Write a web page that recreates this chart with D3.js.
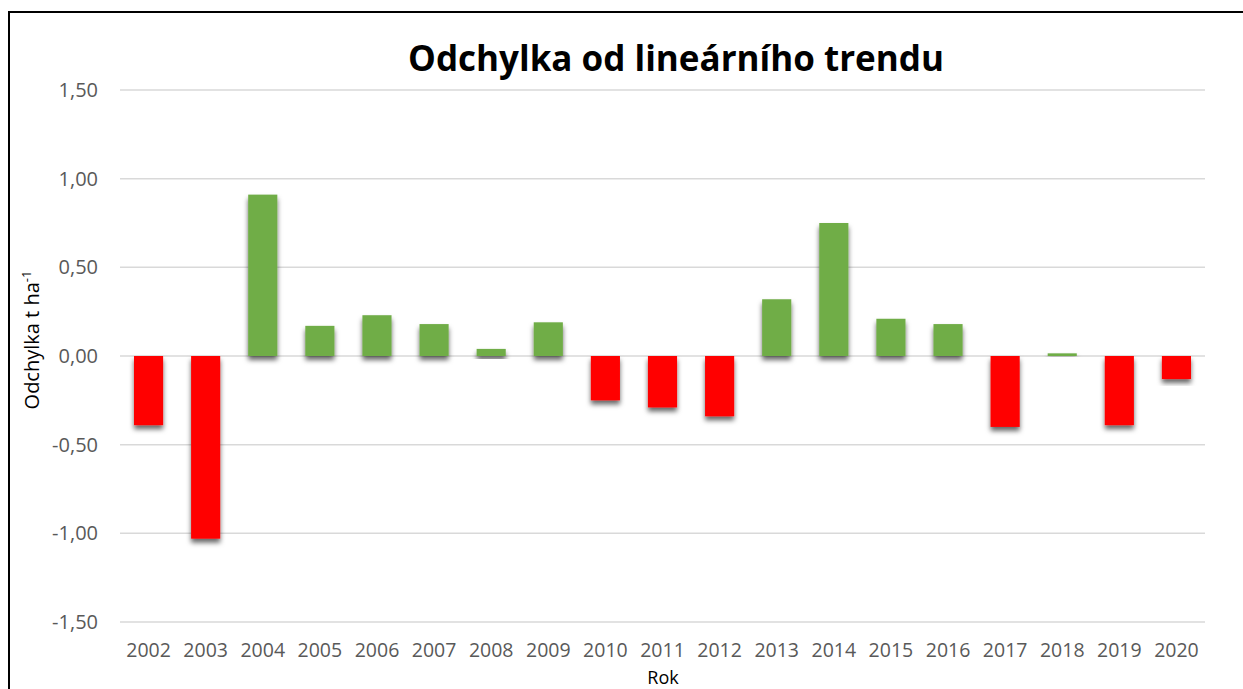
<!DOCTYPE html>
<html>
<head>
<meta charset="utf-8">
<script src="https://cdn.jsdelivr.net/npm/d3@7"></script>
<style>
html,body{margin:0;padding:0;background:#fff;}
svg{display:block;}
</style>
</head>
<body>
<svg id="chart" width="1243" height="689"></svg>
<script>
const years = ["2002","2003","2004","2005","2006","2007","2008","2009","2010","2011","2012","2013","2014","2015","2016","2017","2018","2019","2020"];
const deviations = [-0.39,-1.03,0.91,0.17,0.23,0.18,0.04,0.19,-0.25,-0.29,-0.34,0.32,0.75,0.21,0.18,-0.40,0.015,-0.39,-0.13];
const yTicks = [-1.5,-1.0,-0.5,0,0.5,1.0,1.5];
const titleText = "Odchylka od lineárního trendu";
const xTitle = "Rok";

const svg = d3.select("#chart");
const W = 1243, H = 689;
const m = {left:120, right:38, top:90, bottom:67};

const x = d3.scaleBand().domain(years).range([m.left, W - m.right]).paddingInner(0.49).paddingOuter(0.245);
const y = d3.scaleLinear().domain([-1.5, 1.5]).range([H - m.bottom, m.top]);

const defs = svg.append("defs");
const f = defs.append("filter").attr("id","sh").attr("x","-30%").attr("y","-30%").attr("width","160%").attr("height","160%");
f.append("feDropShadow").attr("dx",0).attr("dy",4).attr("stdDeviation",2.5).attr("flood-color","#000").attr("flood-opacity",0.6);

// border
svg.append("rect").attr("x",9).attr("y",12).attr("width",W+20).attr("height",H+20)
  .attr("fill","none").attr("stroke","#000").attr("stroke-width",2);

// gridlines
svg.append("g").selectAll("line").data(yTicks).join("line")
  .attr("x1", m.left).attr("x2", W - m.right)
  .attr("y1", d => y(d)).attr("y2", d => y(d))
  .attr("stroke","#d9d9d9").attr("stroke-width",1.5);

// y axis labels
const fmt = d => d3.format(".2f")(d).replace(".", ",").replace("−","-");
const yAxis = d3.axisLeft(y).tickValues(yTicks).tickSize(0).tickPadding(0).tickFormat(fmt);
const gy = svg.append("g").attr("transform",`translate(${m.left-22},0)`).call(yAxis);
gy.select(".domain").remove();
gy.selectAll("text").attr("font-family","'Open Sans', sans-serif").attr("font-size",20).attr("fill","#595959");

// bars
svg.append("g").selectAll("rect").data(years).join("rect")
  .attr("x", d => x(d))
  .attr("width", x.bandwidth())
  .attr("y", (d,i) => y(Math.max(0, deviations[i])))
  .attr("height", (d,i) => Math.abs(y(deviations[i]) - y(0)))
  .attr("fill", (d,i) => deviations[i] >= 0 ? "#70ad47" : "#ff0000")
  .attr("filter","url(#sh)");

// x axis labels
const xAxis = d3.axisBottom(x).tickSize(0).tickPadding(0);
const gx = svg.append("g").attr("transform",`translate(0,${y(-1.5)+21})`).call(xAxis);
gx.select(".domain").remove();
gx.selectAll("text").attr("font-family","'Open Sans', sans-serif").attr("font-size",19.5).attr("fill","#595959");

// title
svg.append("text").attr("x",676).attr("y",71).attr("text-anchor","middle")
  .attr("font-family","'Open Sans', sans-serif").attr("font-weight","bold").attr("font-size",35)
  .attr("fill","#000").text(titleText);

// x title
svg.append("text").attr("x",663).attr("y",684).attr("text-anchor","middle")
  .attr("font-family","'Open Sans', sans-serif").attr("font-size",18).attr("fill","#000").text(xTitle);

// y title
const yt = svg.append("text").attr("transform","translate(39,340) rotate(-90)").attr("text-anchor","middle")
  .attr("font-family","'Open Sans', sans-serif").attr("font-size",20).attr("fill","#000");
yt.append("tspan").text("Odchylka t ha");
yt.append("tspan").attr("font-size",13).attr("dy",-8).text("-1");
</script>
</body>
</html>
